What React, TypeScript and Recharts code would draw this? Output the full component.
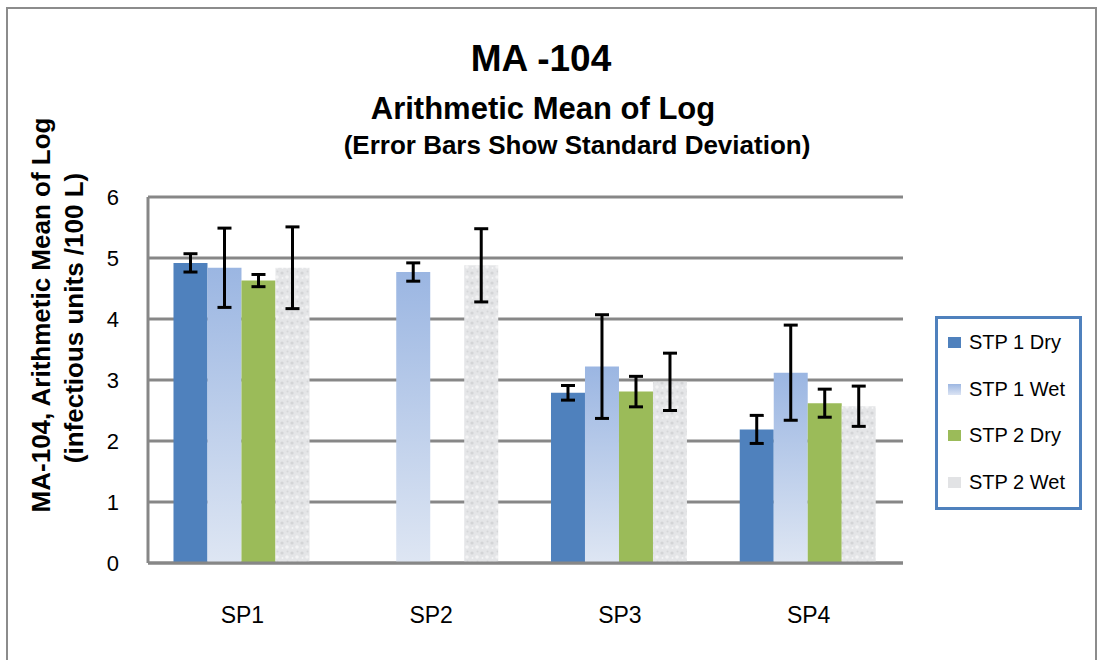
import { Bar, BarChart, CartesianGrid, ErrorBar, XAxis, YAxis } from 'recharts';

const categories = ['SP1', 'SP2', 'SP3', 'SP4'];
const stp1Dry = [4.92, null, 2.79, 2.19];
const stp1DryErr = [0.15, null, 0.12, 0.23];
const stp1Wet = [4.84, 4.77, 3.22, 3.12];
const stp1WetErr = [0.65, 0.15, 0.85, 0.78];
const stp2Dry = [4.63, 0, 2.81, 2.62];
const stp2DryErr = [0.1, 0, 0.25, 0.23];
const stp2Wet = [4.84, 4.88, 2.97, 2.57];
const stp2WetErr = [0.67, 0.6, 0.47, 0.33];
const yTicks = [0, 1, 2, 3, 4, 5, 6];

const seriesNames = ['STP 1 Dry', 'STP 1 Wet', 'STP 2 Dry', 'STP 2 Wet'];

const data = categories.map((name, i) => ({
    name,
    d1: stp1Dry[i],
    d1e: stp1DryErr[i],
    w1: stp1Wet[i],
    w1e: stp1WetErr[i],
    d2: stp2Dry[i],
    d2e: stp2DryErr[i],
    w2: stp2Wet[i],
    w2e: stp2WetErr[i],
}));

const FONT = '"Liberation Sans", Arial, sans-serif';
const GRID = '#878787';

const swatches = [
    { background: '#4F81BD' },
    { background: 'linear-gradient(#9DB7E2, #DCE4F3)' },
    { background: '#9BBB59' },
    { background: '#E2E3E5' },
];

function ChartLegend() {
    return (
        <div
            style={{
                position: 'absolute',
                left: 935,
                top: 316,
                width: 147,
                height: 194,
                boxSizing: 'border-box',
                border: '3px solid #4F81BD',
                background: '#fff',
                fontFamily: FONT,
                fontSize: 20,
                color: '#000',
            }}
        >
            {seriesNames.map((n, i) => (
                <div key={n} style={{ height: 46.7, display: 'flex', alignItems: 'center' }}>
                    <span style={{ width: 13, height: 11, marginLeft: 10, marginRight: 8, ...swatches[i] }} />
                    <span>{n}</span>
                </div>
            ))}
        </div>
    );
}

export default function App() {
    const errProps = { stroke: '#000', strokeWidth: 3, width: 7, direction: 'y' as const };
    return (
        <div style={{ position: 'absolute', left: 0, top: 0, width: 1102, height: 660, background: '#fff', overflow: 'hidden' }}>
            <div
                style={{
                    position: 'absolute',
                    left: 6,
                    top: 7,
                    width: 1091,
                    height: 700,
                    boxSizing: 'border-box',
                    border: '2px solid #8C8C8C',
                }}
            />
            <svg width={1102} height={660} style={{ position: 'absolute', left: 0, top: 0 }}>
                <g fontFamily={FONT} fontWeight="bold" fill="#000">
                    <text x={541} y={71} fontSize={37} textAnchor="middle">MA -104</text>
                    <text x={543} y={119} fontSize={31} textAnchor="middle">Arithmetic Mean of Log</text>
                    <text x={577} y={154} fontSize={26} textAnchor="middle">(Error Bars Show Standard Deviation)</text>
                    <text transform="translate(50,315) rotate(-90)" fontSize={26} textAnchor="middle">
                        MA-104, Arithmetic Mean of Log
                    </text>
                    <text transform="translate(83,318) rotate(-90)" fontSize={26} textAnchor="middle">
                        (infectious units /100 L)
                    </text>
                </g>
            </svg>
            <div style={{ position: 'absolute', left: 0, top: 0 }}>
                <BarChart
                    width={1102}
                    height={660}
                    data={data}
                    margin={{ top: 197, right: 199, left: 108, bottom: 37 }}
                    barCategoryGap="13.5%"
                    barGap={0}
                >
                    <defs>
                        <linearGradient id="wet1" x1="0" y1="0" x2="0" y2="1">
                            <stop offset="0%" stopColor="#9BB6E2" />
                            <stop offset="100%" stopColor="#DEE6F3" />
                        </linearGradient>
                        <pattern id="wet2" width="10" height="10" patternUnits="userSpaceOnUse">
                            <rect width="10" height="10" fill="#E4E5E7" />
                            <circle cx="2" cy="3" r="1.6" fill="#D3D4D6" />
                            <circle cx="7" cy="7" r="1.8" fill="#F3F3F4" />
                            <circle cx="7.5" cy="1.5" r="1" fill="#D6D7D9" />
                            <circle cx="2.5" cy="8" r="1" fill="#F5F5F6" />
                        </pattern>
                    </defs>
                    <CartesianGrid vertical={false} stroke={GRID} strokeWidth={3} />
                    <XAxis
                        dataKey="name"
                        height={60}
                        tickSize={0}
                        tickMargin={44}
                        axisLine={{ stroke: GRID, strokeWidth: 3 }}
                        tick={{ fill: '#000', fontSize: 23, fontFamily: FONT }}
                    />
                    <YAxis
                        domain={[0, 6]}
                        ticks={yTicks}
                        width={40}
                        tickSize={0}
                        tickMargin={29}
                        axisLine={{ stroke: GRID, strokeWidth: 3 }}
                        tick={{ fill: '#000', fontSize: 22, fontFamily: FONT }}
                    />
                    <YAxis
                        yAxisId="r"
                        orientation="right"
                        domain={[0, 6]}
                        width={0}
                        tick={false}
                        tickLine={false}
                        axisLine={{ stroke: GRID, strokeWidth: 3 }}
                    />
                    <Bar dataKey="d1" name={seriesNames[0]} fill="#4F81BD" isAnimationActive={false}>
                        <ErrorBar dataKey="d1e" {...errProps} />
                    </Bar>
                    <Bar dataKey="w1" name={seriesNames[1]} fill="url(#wet1)" isAnimationActive={false}>
                        <ErrorBar dataKey="w1e" {...errProps} />
                    </Bar>
                    <Bar dataKey="d2" name={seriesNames[2]} fill="#9BBB59" isAnimationActive={false}>
                        <ErrorBar dataKey="d2e" {...errProps} />
                    </Bar>
                    <Bar dataKey="w2" name={seriesNames[3]} fill="url(#wet2)" isAnimationActive={false}>
                        <ErrorBar dataKey="w2e" {...errProps} />
                    </Bar>
                </BarChart>
            </div>
            <ChartLegend />
        </div>
    );
}
